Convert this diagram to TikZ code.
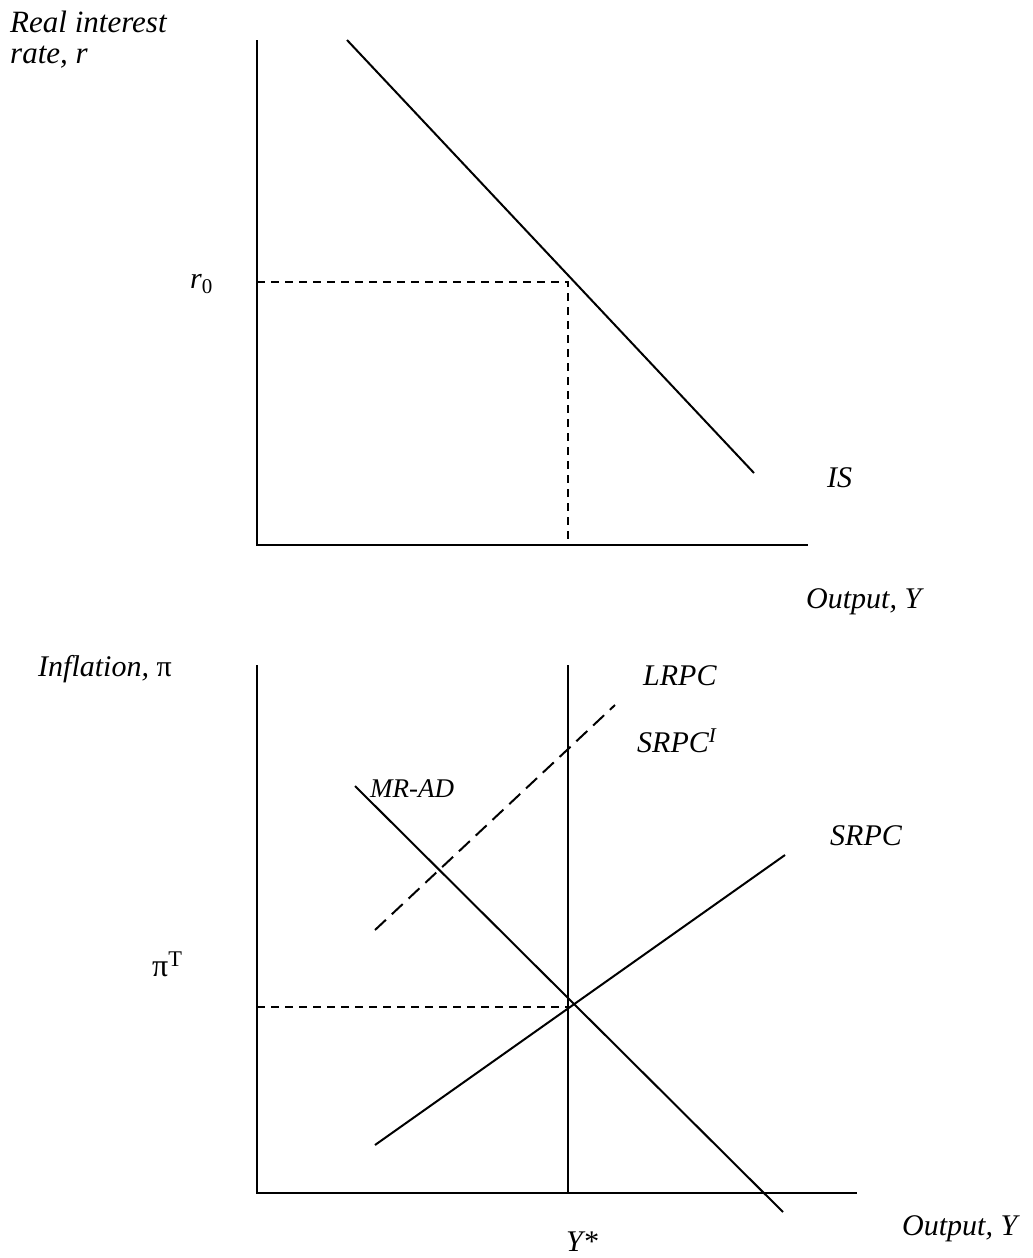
\documentclass[tikz,border=0pt]{standalone}
\usepackage{fontspec}
\setmainfont{Liberation Serif}

\tikzset{
  axis/.style={line width=2.5pt},
  curve/.style={line width=2pt},
  guide/.style={line width=1.7pt, dash pattern=on 8pt off 6pt},
  shifted/.style={line width=2pt, dash pattern=on 15pt off 8pt},
  lbl/.style={anchor=base west, inner sep=0pt, font=\fontsize{30}{31}\selectfont\itshape}
}

\begin{document}
\begin{tikzpicture}[x=1pt, y=-1pt]
\useasboundingbox (0,0) rectangle (1033,1258);

% Upper panel: IS
\coordinate (rtop) at (257,40);
\coordinate (rorig) at (257,545);
\coordinate (rend) at (808,545);
\draw[axis] (rtop) -- (rorig) -- (rend);

\coordinate (isA) at (347,40);
\coordinate (isB) at (754,473);
\draw[curve] (isA) -- (isB);

\coordinate (rzero) at (257,282);
\coordinate (eqtop) at (568,282);
\coordinate (eqfoot) at (568,545);
\draw[guide] (rzero) -- (eqtop) -- (eqfoot);

\node[lbl, font=\fontsize{31}{32}\selectfont\itshape] (ryax1) at (10,32) {Real interest};
\node[lbl, font=\fontsize{31}{32}\selectfont\itshape] (ryax2) at (10,63) {rate, r};
\node[lbl] (rzerolbl) at (190,288) {r\textsubscript{\upshape 0}};
\node[lbl] (islbl) at (827,487) {IS};
\node[lbl] (rxax) at (806,608) {Output, Y};

% Lower panel: MR-AD and Phillips curves
\coordinate (ptop) at (257,665);
\coordinate (porig) at (257,1193);
\coordinate (pend) at (857,1193);
\draw[axis] (ptop) -- (porig) -- (pend);

\coordinate (lrtop) at (568,665);
\coordinate (lrfoot) at (568,1193);
\draw[curve] (lrtop) -- (lrfoot);

\coordinate (adA) at (355,786);
\coordinate (adB) at (783,1212);
\draw[curve] (adA) -- (adB);

\coordinate (pcA) at (375,1145);
\coordinate (pcB) at (785,855);
\draw[curve] (pcA) -- (pcB);

\coordinate (pcIA) at (375,930);
\coordinate (pcIB) at (615,705);
\draw[shifted] (pcIA) -- (pcIB);

\coordinate (pitarget) at (257,1007);
\coordinate (eqpt) at (568,1007);
\draw[guide] (pitarget) -- (eqpt);

\node[lbl] (pyax) at (38,676) {Inflation, \upshape π};
\node[lbl] (lrpclbl) at (643,685) {LRPC};
\node[lbl] (srpcIlbl) at (637,752) {SRPC\textsuperscript{I}};
\node[lbl, font=\fontsize{27}{28}\selectfont\itshape] (mradlbl) at (370,797) {MR-AD};
\node[lbl] (srpclbl) at (830,845) {SRPC};
\node[lbl, font=\fontsize{32}{33}\selectfont] (pitlbl) at (152,976) {π\textsuperscript{T}};
\node[lbl] (pxax) at (902,1235) {Output, Y};
\node[lbl] (ystar) at (566,1251) {Y*};

\end{tikzpicture}
\end{document}
